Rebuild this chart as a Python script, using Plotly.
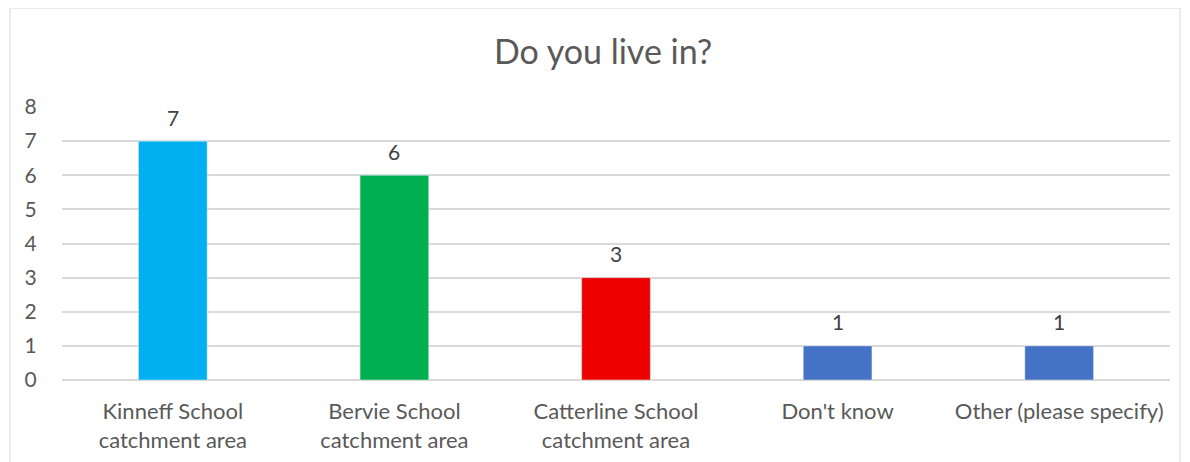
import plotly.graph_objects as go

categories = ["Kinneff School<br>catchment area", "Bervie School<br>catchment area",
              "Catterline School<br>catchment area", "Don't know", "Other (please specify)"]
values = [7, 6, 3, 1, 1]
colors = ["#00B0F0", "#00B050", "#EE0000", "#4472C4", "#4472C4"]
y_ticks = [0, 1, 2, 3, 4, 5, 6, 7, 8]

FONT = "Lato, Calibri, Carlito, sans-serif"
GREY = "#595959"

fig = go.Figure(go.Bar(
    x=categories, y=values, marker_color=colors, width=0.31,
    cliponaxis=False, hoverinfo="x+y",
))

annotations = [dict(x=c, y=v, text=str(v), showarrow=False, yshift=24, yanchor="middle",
                    font=dict(family=FONT, size=21, color="#404040"))
               for c, v in zip(categories, values)]

fig.update_layout(
    width=1190, height=462,
    margin=dict(l=54, r=28, t=99, b=90),
    paper_bgcolor="white", plot_bgcolor="white",
    showlegend=False,
    title=dict(text="Do you live in?", x=0.5, xanchor="center", y=0.905, yanchor="middle",
               font=dict(family=FONT, size=34, color=GREY)),
    annotations=annotations,
    shapes=[dict(type="rect", xref="paper", yref="paper",
                 x0=-0.0469, x1=1.009, y0=-0.4, y1=1.3626,
                 line=dict(color="#D9D9D9", width=1), fillcolor="rgba(0,0,0,0)", layer="below")],
)
fig.update_xaxes(showgrid=False, showline=False, ticks="outside", ticklen=12,
                 tickcolor="rgba(0,0,0,0)",
                 tickfont=dict(family=FONT, size=22, color=GREY))
fig.update_yaxes(range=[0, 8], tickvals=y_ticks, showgrid=True, gridcolor="#D9D9D9",
                 gridwidth=1.5, zeroline=True, zerolinecolor="#D9D9D9", zerolinewidth=1.5,
                 showline=False, ticks="outside", ticklen=20, tickcolor="rgba(0,0,0,0)",
                 tickfont=dict(family=FONT, size=21, color=GREY))

fig.write_html("out.html")
